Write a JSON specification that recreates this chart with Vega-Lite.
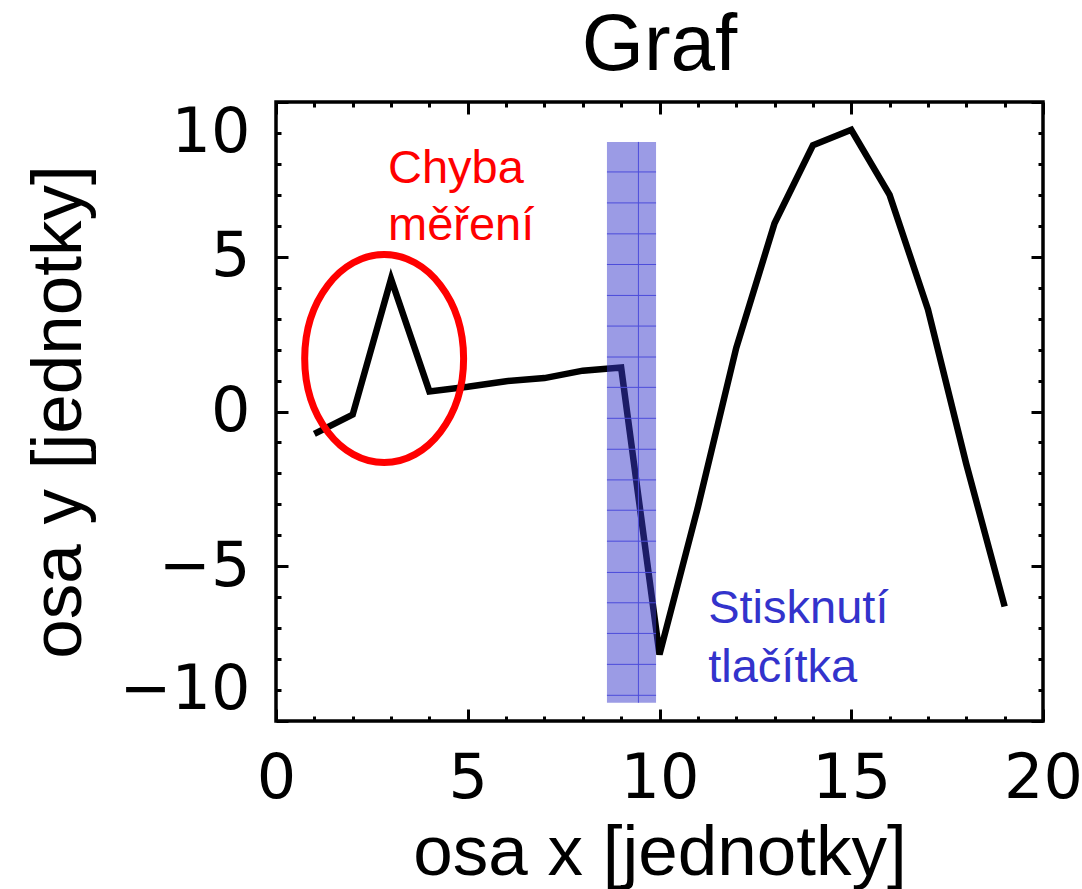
{
  "$schema": "https://vega.github.io/schema/vega-lite/v6.json",
  "autosize": {"type": "none"},
  "padding": {"left": 276, "top": 102, "right": 39, "bottom": 168},
  "width": 767,
  "height": 619,
  "background": "white",
  "title": {"text": "Graf", "font": "Liberation Sans", "fontSize": 80, "fontWeight": "normal", "color": "black", "baseline": "alphabetic", "offset": -49, "anchor": "middle"},
  "config": {"view": {"stroke": "black", "strokeWidth": 3.5}},
  "datasets": {
    "series": [
      {"x": 1, "y": -0.72}, {"x": 2, "y": -0.1}, {"x": 3, "y": 4.28}, {"x": 4, "y": 0.65},
      {"x": 5, "y": 0.8}, {"x": 6, "y": 0.98}, {"x": 7, "y": 1.08}, {"x": 8, "y": 1.32},
      {"x": 9, "y": 1.42}, {"x": 10, "y": -7.85}, {"x": 11, "y": -3.1}, {"x": 12, "y": 2.05},
      {"x": 13, "y": 6.08}, {"x": 14, "y": 8.6}, {"x": 15, "y": 9.1}, {"x": 16, "y": 7.0},
      {"x": 17, "y": 3.3}, {"x": 18, "y": -1.7}, {"x": 19, "y": -6.3}
    ],
    "band": [{"x": 8.63, "x2": 9.91, "y": 8.71, "y2": -9.41}],
    "bandH": [
      {"x": 8.63, "x2": 9.91, "y": 7.74}, {"x": 8.63, "x2": 9.91, "y": 6.74}, {"x": 8.63, "x2": 9.91, "y": 5.74},
      {"x": 8.63, "x2": 9.91, "y": 4.75}, {"x": 8.63, "x2": 9.91, "y": 3.75}, {"x": 8.63, "x2": 9.91, "y": 2.76},
      {"x": 8.63, "x2": 9.91, "y": 1.76}, {"x": 8.63, "x2": 9.91, "y": 0.78}, {"x": 8.63, "x2": 9.91, "y": -0.22},
      {"x": 8.63, "x2": 9.91, "y": -1.22}, {"x": 8.63, "x2": 9.91, "y": -2.21}, {"x": 8.63, "x2": 9.91, "y": -3.19},
      {"x": 8.63, "x2": 9.91, "y": -4.19}, {"x": 8.63, "x2": 9.91, "y": -5.2}, {"x": 8.63, "x2": 9.91, "y": -6.18},
      {"x": 8.63, "x2": 9.91, "y": -7.17}, {"x": 8.63, "x2": 9.91, "y": -8.17}, {"x": 8.63, "x2": 9.91, "y": -9.17}
    ],
    "bandV": [{"x": 9.45, "y": 8.71, "y2": -9.41}],
    "ellipse": [{"x": 2.82, "y": 1.71}],
    "redText": [{"x": 2.92, "y": 7.37, "label": "Chyba"}, {"x": 2.92, "y": 5.54, "label": "měření"}],
    "blueText": [{"x": 11.27, "y": -6.82, "label": "Stisknutí"}, {"x": 11.27, "y": -8.73, "label": "tlačítka"}]
  },
  "resolve": {"axis": {"x": "independent", "y": "independent"}},
  "layer": [
    {
      "data": {"name": "series"},
      "mark": {"type": "line", "color": "black", "strokeWidth": 6.5},
      "encoding": {
        "x": {"field": "x", "type": "quantitative", "scale": {"domain": [0, 20], "nice": false, "zero": false},
          "axis": {"orient": "bottom", "ticks": false, "domain": false, "grid": false, "values": [0, 5, 10, 15, 20],
            "labelFont": "DejaVu Sans", "labelFontSize": 62, "labelColor": "black", "labelPadding": 76, "labelBaseline": "alphabetic",
            "labelFlush": false, "labelOverlap": false,
            "title": "osa x [jednotky]", "titleFont": "Liberation Sans", "titleFontSize": 71, "titleFontWeight": "normal", "titleColor": "black",
            "titleY": 153, "titleBaseline": "alphabetic"}},
        "y": {"field": "y", "type": "quantitative", "scale": {"domain": [-10, 10], "nice": false, "zero": false},
          "axis": {"orient": "left", "ticks": false, "domain": false, "grid": false, "values": [-10, -5, 0, 5, 10],
            "labelFont": "DejaVu Sans", "labelFontSize": 62, "labelColor": "black", "labelPadding": 26,
            "labelFlush": true, "labelFlushOffset": 0, "labelOverlap": false,
            "title": "osa y [jednotky]", "titleFont": "Liberation Sans", "titleFontSize": 71, "titleFontWeight": "normal", "titleColor": "black",
            "titleX": -196, "titleY": 309.5, "titleAngle": -90, "titleAlign": "center", "titleBaseline": "alphabetic"}}
      }
    },
    {
      "data": {"name": "band"},
      "mark": {"type": "rect", "color": "#3838cc", "opacity": 0.5},
      "encoding": {
        "x": {"field": "x", "type": "quantitative",
          "axis": {"orient": "top", "values": [0, 5, 10, 15, 20], "labels": false, "tickSize": -12, "tickWidth": 3, "tickColor": "black", "domain": false, "grid": false, "title": null}},
        "x2": {"field": "x2"},
        "y": {"field": "y", "type": "quantitative",
          "axis": {"orient": "right", "values": [-10, -5, 0, 5, 10], "labels": false, "tickSize": -12, "tickWidth": 3, "tickColor": "black", "domain": false, "grid": false, "title": null}},
        "y2": {"field": "y2"}
      }
    },
    {
      "data": {"name": "bandH"},
      "mark": {"type": "rule", "color": "#4c4cda", "strokeWidth": 1},
      "encoding": {
        "x": {"field": "x", "type": "quantitative",
          "axis": {"orient": "bottom", "values": [1, 2, 3, 4, 6, 7, 8, 9, 11, 12, 13, 14, 16, 17, 18, 19], "labels": false, "tickSize": -5, "tickWidth": 3, "tickColor": "black", "domain": false, "grid": false, "title": null}},
        "x2": {"field": "x2"},
        "y": {"field": "y", "type": "quantitative",
          "axis": {"orient": "left", "values": [-9, -8, -7, -6, -4, -3, -2, -1, 1, 2, 3, 4, 6, 7, 8, 9], "labels": false, "tickSize": -5, "tickWidth": 3, "tickColor": "black", "domain": false, "grid": false, "title": null}}
      }
    },
    {
      "data": {"name": "bandV"},
      "mark": {"type": "rule", "color": "#4c4cda", "strokeWidth": 1},
      "encoding": {
        "x": {"field": "x", "type": "quantitative",
          "axis": {"orient": "top", "values": [1, 2, 3, 4, 6, 7, 8, 9, 11, 12, 13, 14, 16, 17, 18, 19], "labels": false, "tickSize": -5, "tickWidth": 3, "tickColor": "black", "domain": false, "grid": false, "title": null}},
        "y": {"field": "y", "type": "quantitative",
          "axis": {"orient": "right", "values": [-9, -8, -7, -6, -4, -3, -2, -1, 1, 2, 3, 4, 6, 7, 8, 9], "labels": false, "tickSize": -5, "tickWidth": 3, "tickColor": "black", "domain": false, "grid": false, "title": null}},
        "y2": {"field": "y2"}
      }
    },
    {
      "data": {"name": "ellipse"},
      "mark": {"type": "point", "filled": false, "stroke": "#ff0000", "strokeWidth": 7, "opacity": 1, "size": 43264,
        "shape": "M 0.764 0 C 0.764 0.5523 0.422 1 0 1 C -0.422 1 -0.764 0.5523 -0.764 0 C -0.764 -0.5523 -0.422 -1 0 -1 C 0.422 -1 0.764 -0.5523 0.764 0 Z"},
      "encoding": {
        "x": {"field": "x", "type": "quantitative",
          "axis": {"orient": "bottom", "values": [0, 5, 10, 15, 20], "labels": false, "tickSize": -12, "tickWidth": 3, "tickColor": "black", "domain": false, "grid": false, "title": null}},
        "y": {"field": "y", "type": "quantitative",
          "axis": {"orient": "left", "values": [-10, -5, 0, 5, 10], "labels": false, "tickSize": -12, "tickWidth": 3, "tickColor": "black", "domain": false, "grid": false, "title": null}}
      }
    },
    {
      "data": {"name": "redText"},
      "mark": {"type": "text", "align": "left", "baseline": "alphabetic", "font": "Liberation Sans", "fontSize": 47, "color": "#ff0000"},
      "encoding": {
        "x": {"field": "x", "type": "quantitative", "axis": null},
        "y": {"field": "y", "type": "quantitative", "axis": null},
        "text": {"field": "label"}
      }
    },
    {
      "data": {"name": "blueText"},
      "mark": {"type": "text", "align": "left", "baseline": "alphabetic", "font": "Liberation Sans", "fontSize": 47, "color": "#3333cc"},
      "encoding": {
        "x": {"field": "x", "type": "quantitative", "axis": null},
        "y": {"field": "y", "type": "quantitative", "axis": null},
        "text": {"field": "label"}
      }
    }
  ]
}
